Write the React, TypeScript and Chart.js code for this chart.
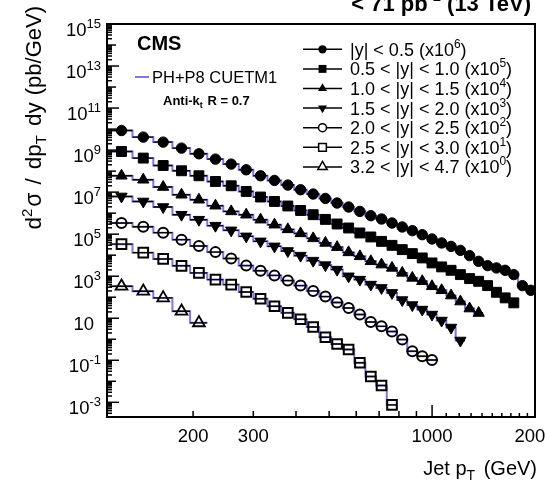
import React, { useEffect, useRef } from 'react';
import { Chart, registerables } from 'chart.js';

Chart.register(...registerables);

// Jet pT bin edges (GeV)
const BIN_EDGES = [
  114, 133, 153, 174, 196, 220, 245, 272, 300, 330, 362, 395, 430, 468, 507, 548, 592, 638,
  686, 737, 790, 846, 905, 967, 1032, 1101, 1172, 1248, 1327, 1410, 1497, 1588, 1684, 1784,
  1890, 2000,
];

const X_MIN = 112;
const X_MAX = 2000;
const Y_MIN = 2e-4;
const Y_MAX = 1e15;
const X_TICK_LABELS = [200, 300, 1000, 2000];
const Y_LABEL_EXPONENTS = [15, 13, 11, 9, 7, 5, 3, 1, -1, -3];

const RAPIDITY_BINS = [
  '|y| < 0.5',
  '0.5 < |y| < 1.0',
  '1.0 < |y| < 1.5',
  '1.5 < |y| < 2.0',
  '2.0 < |y| < 2.5',
  '2.5 < |y| < 3.0',
  '3.2 < |y| < 4.7',
];
const SCALE_EXP = [6, 5, 4, 3, 2, 1, 0];

// Double-differential cross sections d2sigma/dpT dy (pb/GeV), unscaled
const XSEC_Y00_05 = [
  8530, 4150, 2400, 1245, 667, 373, 216, 116, 60.1, 36.0, 21.7, 13.0, 8.13, 5.02, 3.03, 1.96,
  1.21, 0.757, 0.527, 0.34, 0.22, 0.147, 0.0946, 0.0592, 0.0382, 0.0263, 0.017, 0.00953,
  0.00511, 0.00319, 0.00248, 0.00191, 0.00119, 3.57e-4, 2.14e-4,
];
const XSEC_Y05_10 = [
  8570, 4170, 1850, 1040, 601, 322, 201, 108, 58.5, 36.1, 21.9, 13.4, 8.44, 5.05, 3.05, 1.97,
  1.14, 0.736, 0.455, 0.294, 0.184, 0.119, 0.074, 0.0428, 0.0277, 0.0191, 0.0119, 0.00769,
  0.00573, 0.00357, 0.00172, 9.31e-4, 5.4e-4,
];
const XSEC_Y10_15 = [
  6010, 3880, 1750, 752, 436, 226, 121, 84.4, 48.9, 28.3, 16.9, 10.9, 6.31, 3.82, 2.41, 1.36,
  0.881, 0.511, 0.356, 0.248, 0.144, 0.083, 0.0573, 0.0331, 0.0214, 0.012, 0.00621, 0.00289,
  0.00177,
];
const XSEC_Y15_20 = [
  6250, 3610, 1960, 843, 489, 254, 152, 78.6, 45.5, 26.3, 15.9, 9.53, 5.51, 3.37, 2.06, 0.989,
  0.689, 0.399, 0.278, 0.161, 0.0733, 0.0424, 0.0259, 0.015, 0.00778, 0.00361, 8.73e-4,
];
const XSEC_Y20_25 = [
  3400, 2270, 1180, 548, 275, 140, 70.1, 31.9, 18.1, 10.9, 6.18, 3.57, 2.0, 1.07, 0.557, 0.305,
  0.15, 0.0659, 0.0412, 0.0233, 0.00973, 0.0027, 0.00155, 0.00103,
];
const XSEC_Y25_30 = [
  3350, 1320, 664, 312, 144, 68.9, 39.9, 17.6, 8.44, 3.72, 1.81, 0.896, 0.382, 0.124, 0.0594,
  0.0326, 0.0076, 0.0017, 6.35e-4, 7.52e-5,
];
const XSEC_Y32_47 = [331, 192, 93.1, 21.5, 6.04];

const SERIES_VALUES = [
  XSEC_Y00_05, XSEC_Y05_10, XSEC_Y10_15, XSEC_Y15_20, XSEC_Y20_25, XSEC_Y25_30, XSEC_Y32_47,
];
// POWHEG+PYTHIA8 (CUETM1) prediction, same binning
const PREDICTIONS = SERIES_VALUES;

const PRED_COLOR = 'rgb(128,118,226)';
const FONT = '"Liberation Sans", Arial, Helvetica, sans-serif';

type MarkerSpec = {
  style: 'circle' | 'rect' | 'triangle';
  rotation: number;
  filled: boolean;
  radius: number;
  width: number;
};
const MARKERS: MarkerSpec[] = [
  { style: 'circle', rotation: 0, filled: true, radius: 5.2, width: 1 },
  { style: 'rect', rotation: 0, filled: true, radius: 7, width: 1 },
  { style: 'triangle', rotation: 0, filled: true, radius: 6.5, width: 1 },
  { style: 'triangle', rotation: 180, filled: true, radius: 6.5, width: 1 },
  { style: 'circle', rotation: 0, filled: false, radius: 5, width: 2 },
  { style: 'rect', rotation: 0, filled: false, radius: 6.8, width: 2 },
  { style: 'triangle', rotation: 0, filled: false, radius: 6.8, width: 1.8 },
];

const binCenters = BIN_EDGES.slice(0, -1).map((lo, i) => 0.5 * (lo + BIN_EDGES[i + 1]));

type Seg = { t: string; size: number; dy?: number; weight?: string; gap?: number };

function setFont(ctx: CanvasRenderingContext2D, s: Seg) {
  ctx.font = `${s.weight ?? 'normal'} ${s.size}px ${FONT}`;
}

function richWidth(ctx: CanvasRenderingContext2D, segs: Seg[]) {
  let w = 0;
  for (const s of segs) {
    setFont(ctx, s);
    w += ctx.measureText(s.t).width + (s.gap ?? 0);
  }
  return w;
}

function drawRich(
  ctx: CanvasRenderingContext2D,
  segs: Seg[],
  x: number,
  y: number,
  align: 'left' | 'right' | 'center',
) {
  const w = richWidth(ctx, segs);
  let cx = align === 'left' ? x : align === 'right' ? x - w : x - w / 2;
  ctx.textAlign = 'left';
  ctx.textBaseline = 'alphabetic';
  for (const s of segs) {
    setFont(ctx, s);
    ctx.fillText(s.t, cx, y + (s.dy ?? 0));
    cx += ctx.measureText(s.t).width + (s.gap ?? 0);
  }
}

function markerPath(ctx: CanvasRenderingContext2D, m: MarkerSpec, x: number, y: number, r: number) {
  ctx.beginPath();
  if (m.style === 'circle') {
    ctx.arc(x, y, r, 0, 2 * Math.PI);
  } else if (m.style === 'rect') {
    const h = r * Math.SQRT1_2;
    ctx.rect(x - h, y - h, 2 * h, 2 * h);
  } else {
    let a = (m.rotation * Math.PI) / 180;
    ctx.moveTo(x + Math.sin(a) * r, y - Math.cos(a) * r);
    for (let k = 0; k < 2; k++) {
      a += (2 * Math.PI) / 3;
      ctx.lineTo(x + Math.sin(a) * r, y - Math.cos(a) * r);
    }
    ctx.closePath();
  }
}

const frameAndTextPlugin = {
  id: 'frameAndText',
  afterDatasetsDraw(chart: any) {
    const { ctx, chartArea: a, scales } = chart;
    const xs = scales.x;
    const ys = scales.y;
    ctx.save();
    ctx.fillStyle = '#000';
    ctx.strokeStyle = '#000';

    // frame
    ctx.lineWidth = 2;
    ctx.strokeRect(a.left, a.top, a.right - a.left, a.bottom - a.top);

    // x ticks (drawn inward)
    ctx.lineWidth = 1.5;
    const xTick = (v: number, len: number) => {
      const px = xs.getPixelForValue(v);
      ctx.beginPath();
      ctx.moveTo(px, a.bottom);
      ctx.lineTo(px, a.bottom - len);
      ctx.stroke();
    };
    for (let m = 2; m <= 9; m++) xTick(m * 100, 6);
    xTick(1000, 12);
    for (let m = 11; m <= 19; m++) xTick(m * 100, 4);

    // y ticks
    for (let e = -4; e <= 14; e++) {
      for (let m = 1; m <= 9; m++) {
        const v = m * Math.pow(10, e);
        if (v < Y_MIN || v > Y_MAX) continue;
        const py = ys.getPixelForValue(v);
        const len = m === 1 ? (Math.abs(e) % 2 === 1 ? 12 : 9) : 5;
        ctx.beginPath();
        ctx.moveTo(a.left, py);
        ctx.lineTo(a.left + len, py);
        ctx.stroke();
      }
    }

    // x tick labels
    for (const v of X_TICK_LABELS) {
      drawRich(ctx, [{ t: String(v), size: 18.5 }], xs.getPixelForValue(v), 442, 'center');
    }

    // y tick labels
    for (const e of Y_LABEL_EXPONENTS) {
      const py = ys.getPixelForValue(Math.pow(10, e));
      if (e === 1) {
        drawRich(ctx, [{ t: '10', size: 18.5 }], 94, py + 11.5, 'right');
      } else {
        drawRich(
          ctx,
          [
            { t: '10', size: 18.5 },
            { t: String(e), size: 13, dy: -8 },
          ],
          101,
          py + 11.5,
          'right',
        );
      }
    }

    // axis titles
    drawRich(
      ctx,
      [
        { t: 'Jet p', size: 20 },
        { t: 'T', size: 14, dy: 5, gap: 3 },
        { t: ' (GeV)', size: 20 },
      ],
      537,
      475,
      'right',
    );
    ctx.save();
    ctx.translate(41, 0);
    ctx.rotate(-Math.PI / 2);
    drawRich(
      ctx,
      [
        { t: 'd', size: 22.5 },
        { t: '2', size: 15, dy: -9, gap: 2 },
        { t: 'σ', size: 23, gap: 8 },
        { t: '/', size: 22.5, gap: 9 },
        { t: 'dp', size: 22.5 },
        { t: 'T', size: 15, dy: 5, gap: 9 },
        { t: 'dy', size: 22.5, gap: 7 },
        { t: '(pb/GeV)', size: 22 },
      ],
      -6,
      0,
      'right',
    );
    ctx.restore();

    // luminosity label at top
    drawRich(
      ctx,
      [
        { t: '< 71 pb', size: 22, weight: 'bold' },
        { t: '-1', size: 15, dy: -10, weight: 'bold' },
        { t: ' (13 TeV)', size: 22, weight: 'bold' },
      ],
      531,
      11,
      'right',
    );

    // experiment and generator labels
    drawRich(ctx, [{ t: 'CMS', size: 20, weight: 'bold' }], 137, 50, 'left');
    ctx.strokeStyle = PRED_COLOR;
    ctx.lineWidth = 2;
    ctx.beginPath();
    ctx.moveTo(135, 77);
    ctx.lineTo(149, 77);
    ctx.stroke();
    drawRich(ctx, [{ t: 'PH+P8 CUETM1', size: 16.5 }], 152, 83, 'left');
    drawRich(
      ctx,
      [
        { t: 'Anti-k', size: 13, weight: 'bold' },
        { t: 't', size: 9, dy: 3, weight: 'bold', gap: 1 },
        { t: ' R = 0.7', size: 13, weight: 'bold' },
      ],
      163,
      105,
      'left',
    );

    // rapidity legend
    RAPIDITY_BINS.forEach((label, i) => {
      const cy = 49.3 + 19.6 * i;
      ctx.strokeStyle = '#000';
      ctx.lineWidth = 1.5;
      ctx.beginPath();
      ctx.moveTo(303, cy);
      ctx.lineTo(342, cy);
      ctx.stroke();
      const m = MARKERS[i];
      markerPath(ctx, m, 322.5, cy, m.radius * 0.8);
      if (m.filled) {
        ctx.fillStyle = '#000';
        ctx.fill();
      } else {
        ctx.fillStyle = '#fff';
        ctx.fill();
        ctx.lineWidth = 1.5;
        ctx.stroke();
      }
      ctx.fillStyle = '#000';
      drawRich(
        ctx,
        [
          { t: `${label} (x10`, size: 18 },
          { t: String(SCALE_EXP[i]), size: 12, dy: -8 },
          { t: ')', size: 18 },
        ],
        350,
        cy + 6.4,
        'left',
      );
    });

    ctx.restore();
  },
};

function buildDatasets() {
  const markers: any[] = [];
  const bars: any[] = [];
  const steps: any[] = [];
  SERIES_VALUES.forEach((vals, s) => {
    const f = Math.pow(10, SCALE_EXP[s]);
    const m = MARKERS[s];
    markers.push({
      label: RAPIDITY_BINS[s],
      data: vals.map((v, i) => ({ x: binCenters[i], y: v * f })),
      showLine: false,
      pointStyle: m.style,
      pointRadius: m.radius,
      pointRotation: m.rotation,
      pointBackgroundColor: m.filled ? '#000' : 'rgba(0,0,0,0)',
      pointBorderColor: '#000',
      pointBorderWidth: m.width,
      order: 0,
    });
    const barPts: any[] = [];
    vals.forEach((v, i) => {
      barPts.push(
        { x: BIN_EDGES[i], y: v * f },
        { x: BIN_EDGES[i + 1], y: v * f },
        { x: BIN_EDGES[i + 1], y: null },
      );
    });
    bars.push({
      data: barPts,
      showLine: true,
      borderColor: '#000',
      borderWidth: 1.4,
      pointRadius: 0,
      spanGaps: false,
      order: 1,
    });
    const stepPts: any[] = [];
    PREDICTIONS[s].forEach((v, i) => {
      stepPts.push({ x: BIN_EDGES[i], y: v * f }, { x: BIN_EDGES[i + 1], y: v * f });
    });
    steps.push({
      data: stepPts,
      showLine: true,
      borderColor: PRED_COLOR,
      borderWidth: 2,
      pointRadius: 0,
      order: 2,
    });
  });
  return [...markers, ...bars, ...steps];
}

export default function App() {
  const canvasRef = useRef<HTMLCanvasElement | null>(null);

  useEffect(() => {
    if (!canvasRef.current) return;
    const chart = new Chart(canvasRef.current, {
      type: 'scatter',
      data: { datasets: buildDatasets() },
      options: {
        animation: false,
        responsive: false,
        devicePixelRatio: 1,
        events: [],
        layout: { padding: { left: 107, right: 10, top: 24, bottom: 66 } },
        plugins: {
          legend: { display: false },
          tooltip: { enabled: false },
          title: { display: false },
        },
        elements: { line: { tension: 0 } },
        scales: {
          x: { type: 'logarithmic', min: X_MIN, max: X_MAX, display: false },
          y: { type: 'logarithmic', min: Y_MIN, max: Y_MAX, display: false },
        },
      } as any,
      plugins: [frameAndTextPlugin],
    });
    return () => chart.destroy();
  }, []);

  return (
    <div style={{ position: 'fixed', left: 0, top: 0, width: 545, height: 483, background: '#fff' }}>
      <canvas ref={canvasRef} width={545} height={483} />
    </div>
  );
}
